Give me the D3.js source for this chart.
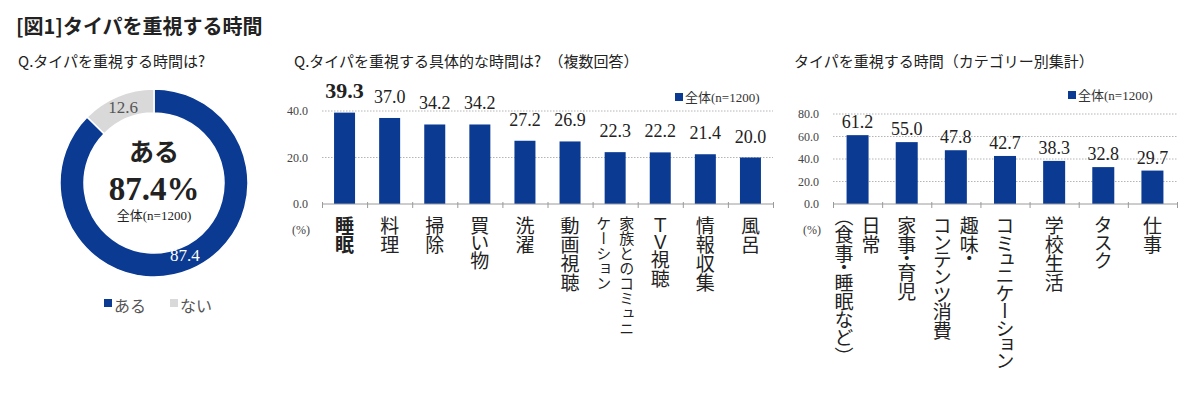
<!DOCTYPE html>
<html><head><meta charset="utf-8">
<script src="https://cdn.jsdelivr.net/npm/d3@7"></script>
<style>
html,body{margin:0;padding:0;background:#fff;}
svg text{font-family:"Liberation Serif","Noto Sans CJK JP",serif;fill:#222;}
.jp{font-family:"Noto Sans CJK JP",sans-serif;}
.vert{writing-mode:vertical-rl;text-orientation:upright;font-family:"Noto Sans CJK JP",sans-serif;}
</style></head>
<body>
<svg id="chart" width="1200" height="400"></svg>
<script>
// ---- data ----
const donutLabels = ["ある", "ない"];
const donutValues = [87.4, 12.6];

const detailCategories = ["睡眠","料理","掃除","買い物","洗濯","動画視聴","家族とのコミュニ\nケーション","ＴＶ視聴","情報収集","風呂"];
const detailValues = [39.3, 37.0, 34.2, 34.2, 27.2, 26.9, 22.3, 22.2, 21.4, 20.0];
const detailTicks = [0, 20, 40];

const groupCategories = ["日常\n（食事・睡眠など）","家事・育児","趣味・\nコンテンツ消費","コミュニケーション","学校生活","タスク","仕事"];
const groupValues = [61.2, 55.0, 47.8, 42.7, 38.3, 32.8, 29.7];
const groupTicks = [0, 20, 40, 60, 80];

const seriesName = "全体(n=1200)";

// ---- styles ----
const BLUE = "#0b3a93", GREY = "#d9d9d9", AXIS = "#9a9a9a";
const svg = d3.select("#chart");

// Title
svg.append("text").attr("class","jp").attr("x",16).attr("y",34)
  .attr("font-size",20).attr("font-weight",700).text("[図1]タイパを重視する時間");

// Subtitles
svg.append("text").attr("class","jp").attr("x",18).attr("y",67).attr("font-size",15).attr("fill","#333")
  .text("Q.タイパを重視する時間は?");
svg.append("text").attr("class","jp").attr("x",294).attr("y",67).attr("font-size",15).attr("fill","#333")
  .text("Q.タイパを重視する具体的な時間は?　（複数回答）");
svg.append("text").attr("class","jp").attr("x",794).attr("y",67).attr("font-size",15).attr("fill","#333")
  .text("タイパを重視する時間（カテゴリー別集計）");

// ---- Donut ----
(function(){
  const cx = 154, cy = 183, rO = 94, rI = 70;
  const g = svg.append("g").attr("transform",`translate(${cx},${cy})`);
  const pie = d3.pie().sort(null)(donutValues);
  const arc = d3.arc().innerRadius(rI).outerRadius(rO);
  const colors = [BLUE, GREY];
  g.selectAll("path").data(pie).join("path").attr("d",arc).attr("fill",(d,i)=>colors[i])
    .attr("stroke","#fff").attr("stroke-width",1.5);
  const lblArc = d3.arc().innerRadius(80).outerRadius(80);
  g.selectAll("text.v").data(pie).join("text").attr("class","v")
    .attr("transform",d=>{const c=lblArc.centroid(d);return `translate(${c[0]},${c[1]})`;})
    .attr("text-anchor","middle").attr("dominant-baseline","middle")
    .attr("font-size",17).style("fill",(d,i)=>i?"#555":"#fff")
    .text(d=>d.data.toFixed(1));
  g.append("text").attr("class","jp").attr("y",-22).attr("text-anchor","middle").attr("font-size",25)
    .attr("font-weight",700).text(donutLabels[0]);
  g.append("text").attr("y",17).attr("text-anchor","middle").attr("font-size",33)
    .attr("font-weight",700).text(donutValues[0].toFixed(1)+"%");
  g.append("text").attr("y",37).attr("text-anchor","middle").attr("font-size",13).text(seriesName);
  // legend
  const lg = svg.append("g").attr("transform","translate(104,306)");
  donutLabels.forEach((l,i)=>{
    const x = i*66;
    lg.append("rect").attr("x",x).attr("y",-7).attr("width",8).attr("height",8).attr("fill",colors[i]);
    lg.append("text").attr("class","jp").attr("x",x+10).attr("y",2).attr("dominant-baseline","middle")
      .attr("font-size",16).style("fill","#555").text(l);
  });
})();

// ---- Bar chart builder ----
function barChart(opts){
  const {cats, vals, ticks, x0, x1, yTop, yBottom, maxV, bw, labelFs, catFs, gap, boldFirst, legendX, legendY} = opts;
  const g = svg.append("g");
  const x = d3.scaleBand().domain(cats.map((c,i)=>i)).range([x0,x1]).paddingInner(0).paddingOuter(0);
  const y = d3.scaleLinear().domain([0,maxV]).range([yBottom,yTop]);
  // gridlines
  g.selectAll("line.grid").data(ticks.filter(t=>t>0)).join("line").attr("class","grid")
    .attr("x1",x0).attr("x2",x1).attr("y1",d=>y(d)).attr("y2",d=>y(d))
    .attr("stroke","#b5b5b5").attr("stroke-dasharray","1.5,1.5").attr("stroke-width",1);
  // y axis labels
  const ya = d3.axisLeft(y).tickValues(ticks).tickFormat(d3.format(".1f")).tickSize(0).tickPadding(14);
  const yg = g.append("g").attr("transform",`translate(${x0},0)`).call(ya);
  yg.select(".domain").remove();
  yg.selectAll("text").attr("font-size",12).style("fill","#444")
    .style("font-family","'Liberation Serif',serif");
  // bars
  g.selectAll("rect.bar").data(vals).join("rect").attr("class","bar")
    .attr("x",(d,i)=>x(i)+(x.bandwidth()-bw)/2).attr("width",bw)
    .attr("y",d=>y(d)).attr("height",d=>yBottom-y(d)).attr("fill",BLUE);
  // x axis
  const xa = d3.axisBottom(d3.scaleLinear().domain([0,cats.length]).range([x0,x1]))
    .tickValues(d3.range(cats.length+1)).tickSize(5).tickFormat("");
  const xg = g.append("g").attr("transform",`translate(0,${yBottom})`).call(xa);
  xg.select(".domain").attr("stroke",AXIS).attr("d",`M${x0},0H${x1}`);
  xg.selectAll(".tick line").attr("stroke",AXIS).attr("y1",-2).attr("y2",4);
  // value labels
  g.selectAll("text.val").data(vals).join("text").attr("class","val")
    .attr("x",(d,i)=>x(i)+x.bandwidth()/2).attr("y",d=>y(d)-gap)
    .attr("text-anchor","middle")
    .attr("font-size",(d,i)=>boldFirst&&i===0?22:labelFs)
    .attr("font-weight",(d,i)=>boldFirst&&i===0?700:400)
    .text(d=>d.toFixed(1));
  // category labels (vertical)
  cats.forEach((c,i)=>{
    const lines = c.split("\n");
    const cxm = x(i)+x.bandwidth()/2;
    const small = lines.length>1 && boldFirst;
    const fs = small ? 15 : catFs;
    const pitch = small ? 23 : 27;
    lines.forEach((l,k)=>{
      const off = (lines.length-1)/2*pitch - k*pitch;
      const t = g.append("text").attr("class","vert").attr("x",cxm+off).attr("y",yBottom+12)
        .attr("font-size",fs).attr("font-weight",boldFirst&&i===0?700:400)
        .style("fill","#222").text(l);
      if(!small) t.style("font-feature-settings","'vpal' 1");
    });
  });
  // (%)
  g.append("text").attr("x",x0-12).attr("y",yBottom+30).attr("text-anchor","end")
    .attr("font-size",12).style("fill","#444").text("(%)");
  // legend
  g.append("rect").attr("x",legendX).attr("y",legendY-9).attr("width",8).attr("height",8).attr("fill",BLUE);
  g.append("text").attr("x",legendX+10).attr("y",legendY).attr("font-size",13).style("fill","#333").text(seriesName);
}

barChart({cats:detailCategories, vals:detailValues, ticks:detailTicks, x0:322, x1:773, yTop:111, yBottom:204,
  maxV:40, bw:21, labelFs:18, catFs:19, gap:15, boldFirst:true, legendX:675, legendY:102});

barChart({cats:groupCategories, vals:groupValues, ticks:groupTicks, x0:833, x1:1177, yTop:114, yBottom:204,
  maxV:80, bw:22, labelFs:18, catFs:19, gap:7, boldFirst:false, legendX:1068, legendY:100});
</script>
</body></html>
